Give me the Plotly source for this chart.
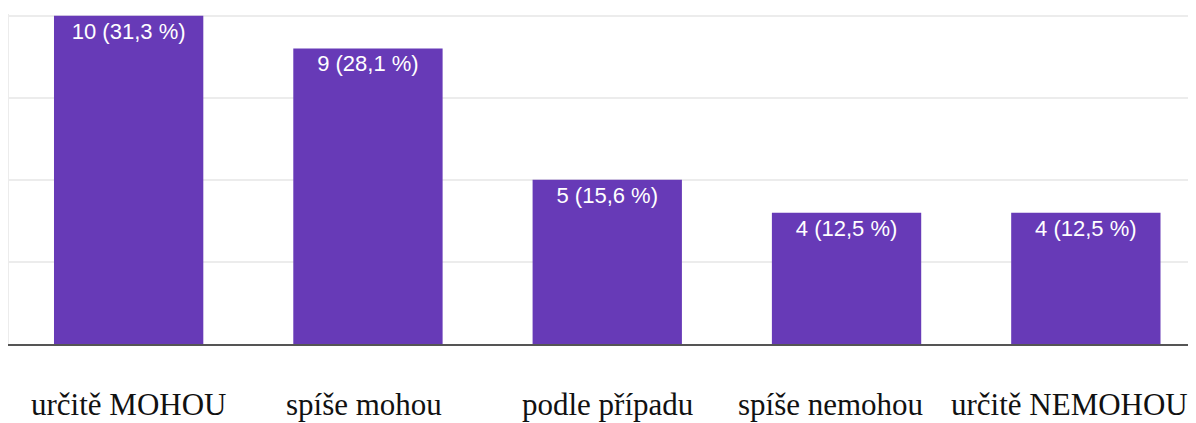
import plotly.graph_objects as go

categories = ["určitě MOHOU", "spíše mohou", "podle případu", "spíše nemohou", "určitě NEMOHOU"]
counts = [10, 9, 5, 4, 4]
percents = ["31,3", "28,1", "15,6", "12,5", "12,5"]
label_shift = [0, -4, 0, -16, -16]  # horizontal nudges of the category labels (px)

bar_text = [f"{c} ({p} %)" for c, p in zip(counts, percents)]

fig = go.Figure()
fig.add_trace(go.Bar(
    x=categories, y=counts, text=bar_text,
    textposition="inside", insidetextanchor="end",
    textfont=dict(family="Liberation Sans, Arial, sans-serif", size=22, color="white"),
    marker=dict(color="#673ab7", line=dict(width=0)),
    hoverinfo="skip",
))

for cat, dx in zip(categories, label_shift):
    fig.add_annotation(
        x=cat, y=0, xref="x", yref="paper", yanchor="top", xanchor="center",
        yshift=-42, xshift=dx, text=cat, showarrow=False, borderpad=0,
        font=dict(family="Liberation Serif, Times New Roman, serif", size=31, color="#111111"),
    )

# page body has an 8px margin, so the figure is 8px smaller on each axis
fig.update_layout(
    width=1188, height=415,
    margin=dict(l=1, r=0, t=6, b=79),
    plot_bgcolor="white", paper_bgcolor="white",
    bargap=0.376, showlegend=False,
    uniformtext=dict(mode=False),
)
fig.update_xaxes(
    type="category", range=[-0.5, -0.5 + 1187 / 239.3],
    showticklabels=False, ticks="", showgrid=False,
    showline=True, linecolor="#555555", linewidth=2, zeroline=False,
)
fig.update_yaxes(
    range=[0, 10.05], tickvals=[0, 2.5, 5, 7.5, 10], showticklabels=False, ticks="",
    showgrid=True, gridcolor="#ececec", gridwidth=2,
    showline=True, linecolor="#ececec", linewidth=2, zeroline=False,
)

fig.write_html("out.html")
